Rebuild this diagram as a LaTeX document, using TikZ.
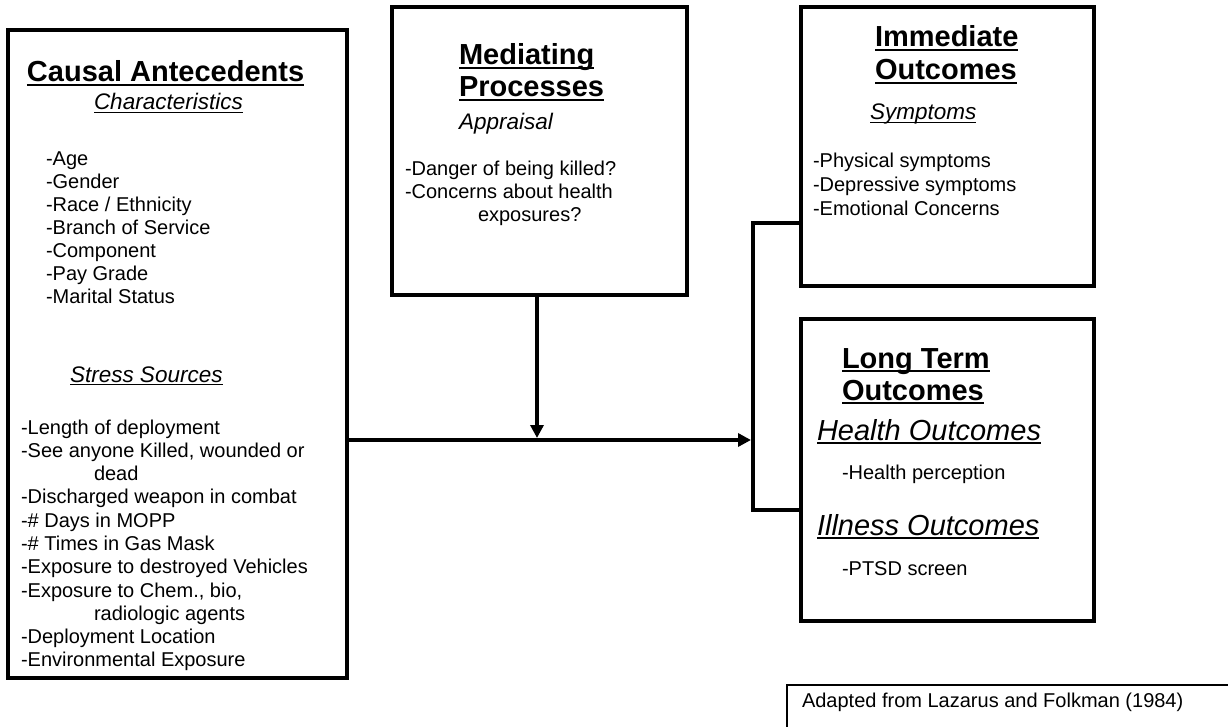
\documentclass[tikz,border=0pt]{standalone}
\usepackage{fontspec}
\setmainfont{Liberation Sans}
\usetikzlibrary{arrows.meta}
\newcommand\myul[1]{\setbox0\hbox{#1}\rlap{\rule[-0.15em]{\wd0}{0.075em}}\box0}
\tikzset{
  box/.style={draw, line width=3.5pt, anchor=north west, inner sep=0pt, outer sep=0pt},
  thinbox/.style={draw, line width=1.3pt, anchor=north west, inner sep=0pt, outer sep=0pt},
  txt/.style={anchor=base west, inner sep=0pt, outer sep=0pt},
  body/.style={txt, font=\fontsize{20}{24}\selectfont},
  head/.style={txt, font=\fontsize{29}{34}\selectfont\bfseries},
  sub/.style={txt, font=\fontsize{22.5}{27}\selectfont\itshape},
  bigit/.style={txt, font=\fontsize{29}{34}\selectfont\itshape},
  conn/.style={line width=4.5pt},
  arr/.style={conn, -{Triangle[length=13pt, width=13pt]}}
}
\begin{document}
\begin{tikzpicture}[x=1pt, y=-1pt]
\fill[white] (0,0) rectangle (1228,727);
\useasboundingbox (0,0) rectangle (1228,727);

% boxes
\node[box, minimum width=339pt, minimum height=648pt] (causal) at (8,30) {};
\node[box, minimum width=295pt, minimum height=288pt] (med) at (392,7) {};
\node[box, minimum width=293pt, minimum height=279pt] (imm) at (801,7) {};
\node[box, minimum width=293pt, minimum height=302pt] (lt) at (801,319) {};
\node[thinbox, minimum width=460pt, minimum height=60pt] (src) at (787,685) {};

% causal antecedents
\node[head] (cah) at (27,82) {\myul{Causal Antecedents}};
\node[sub] (chh) at (94,110) {\myul{Characteristics}};
\foreach \t [count=\i] in {-Age,-Gender,-Race / Ethnicity,-Branch of Service,-Component,-Pay Grade,-Marital Status}
  \node[body] (ch\i) at (46,{166+(\i-1)*22.9}) {\t};
\node[sub] (ssh) at (70,382) {\myul{Stress Sources}};
\node[body] (ss1) at (21,434) {-Length of deployment};
\node[body] (ss2) at (21,457.5) {-See anyone Killed, wounded or};
\node[body] (ss3) at (94,480.5) {dead};
\node[body] (ss4) at (21,503.5) {-Discharged weapon in combat};
\node[body] (ss5) at (21,527) {-\# Days in MOPP};
\node[body] (ss6) at (21,550) {-\# Times in Gas Mask};
\node[body] (ss7) at (21,573.5) {-Exposure to destroyed Vehicles};
\node[body] (ss8) at (21,597) {-Exposure to Chem., bio,};
\node[body] (ss9) at (94,620) {radiologic agents};
\node[body] (ss10) at (21,643) {-Deployment Location};
\node[body] (ss11) at (21,666) {-Environmental Exposure};

% mediating processes
\node[head] (mh1) at (459,65) {\myul{Mediating}};
\node[head] (mh2) at (459,97) {\myul{Processes}};
\node[sub] (ap) at (459,130) {Appraisal};
\node[body] (m1) at (405,176) {-Danger of being killed?};
\node[body] (m2) at (405,199) {-Concerns about health};
\node[body] (m3) at (478,222) {exposures?};

% immediate outcomes
\node[head] (ih1) at (875,47) {\myul{Immediate}};
\node[head] (ih2) at (875,80) {\myul{Outcomes}};
\node[sub] (sy) at (870,120) {\myul{Symptoms}};
\node[body] (i1) at (813,168) {-Physical symptoms};
\node[body] (i2) at (813,192) {-Depressive symptoms};
\node[body] (i3) at (813,216) {-Emotional Concerns};

% long term outcomes
\node[head] (lh1) at (842,368) {\myul{Long Term}};
\node[head] (lh2) at (842,400) {\myul{Outcomes}};
\node[bigit] (ho) at (817,440) {\myul{Health Outcomes}};
\node[body] (hp) at (842,479) {-Health perception};
\node[bigit] (io) at (817,535) {\myul{Illness Outcomes}};
\node[body] (pt) at (842,575) {-PTSD screen};

% source
\node[body] (srct) at (802,707) {Adapted from Lazarus and Folkman (1984)};

% connectors
\coordinate (j) at (537,438);
\coordinate (b) at (751,440);
\coordinate (bt) at (753,223);
\coordinate (bb) at (753,510);
\draw[arr] (causal.east |- b) -- (b);
\draw[arr] (med.south -| j) -- (j);
\draw[conn] (imm.west |- bt) -- (bt) -- (bb) -- (lt.west |- bb);
\end{tikzpicture}
\end{document}
